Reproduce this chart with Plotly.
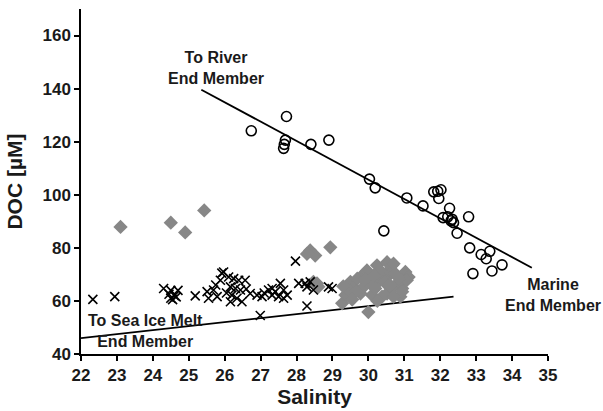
import plotly.graph_objects as go

# Open circles (marine samples)
circ_sal = [26.74, 27.72, 27.69, 27.66, 27.64, 28.40, 28.90, 30.03, 30.19, 30.43,
            31.07, 31.52, 31.82, 31.93, 32.02, 31.96, 32.26, 32.08, 32.21, 32.33,
            32.37, 32.30, 32.79, 32.47, 32.82, 33.14, 33.38, 33.28, 33.72, 32.91, 33.44]
circ_doc = [124.1, 129.5, 120.6, 119.0, 117.5, 119.0, 120.6, 105.9, 102.6, 86.4,
            98.8, 95.8, 101.1, 101.3, 101.9, 98.6, 94.9, 91.4, 91.7, 90.8,
            89.5, 90.2, 91.7, 85.5, 80.0, 77.5, 78.7, 75.9, 73.6, 70.3, 71.3]

# Crosses
x_sal = [22.33, 22.94, 24.30, 24.50, 24.70, 24.60, 24.50, 24.55, 24.65, 24.45,
         25.18, 25.55, 25.97, 25.88, 25.92, 25.51, 25.69, 25.79, 26.11, 26.25,
         26.39, 26.57, 26.16, 26.30, 26.44, 26.20, 26.34, 26.16, 26.48, 26.71,
         26.90, 27.04, 27.22, 27.32, 27.41, 27.55, 27.64, 27.74, 27.64, 27.50,
         27.32, 27.97, 28.06, 28.24, 28.38, 28.47, 28.29, 28.29, 26.99, 28.89,
         28.99, 25.75, 26.05, 26.60, 27.10]
x_doc = [60.6, 61.6, 64.7, 64.0, 64.0, 62.0, 61.0, 60.5, 61.5, 62.5,
         61.9, 61.0, 70.9, 67.8, 70.5, 63.5, 64.1, 61.6, 69.0, 68.4,
         67.8, 67.8, 65.3, 64.7, 64.1, 62.2, 61.0, 59.7, 59.7, 62.8,
         62.2, 61.6, 64.1, 64.7, 63.5, 66.6, 64.1, 62.2, 61.0, 61.6,
         62.2, 75.0, 66.6, 66.6, 67.2, 64.1, 65.3, 58.1, 54.5, 65.3,
         64.7, 66.0, 63.0, 64.5, 63.0]

# Grey diamonds
d_sal = [23.10, 24.50, 24.90, 25.43, 28.38, 28.52, 28.29, 28.94, 28.47, 28.61,
         28.57, 29.27, 29.36, 29.50, 29.78, 29.96, 30.24, 30.66, 31.03, 31.12,
         30.94, 30.89, 30.52, 30.10, 29.78, 29.59, 30.52, 30.33, 30.80, 30.05,
         29.87, 30.57, 30.75, 29.69, 30.33, 30.19, 30.66, 30.38, 30.70, 30.00,
         29.40, 30.52, 30.70, 31.07, 30.94, 29.45, 29.65, 29.90, 30.15, 30.45,
         30.85, 29.30, 29.55, 30.25, 30.60]
d_doc = [87.9, 89.5, 85.8, 94.1, 79.0, 77.1, 77.7, 80.2, 67.2, 65.3,
         66.6, 59.1, 62.2, 67.2, 69.0, 71.5, 73.4, 73.4, 70.9, 69.0,
         64.7, 61.6, 62.8, 62.2, 62.8, 65.3, 69.0, 67.8, 66.6, 66.6,
         65.3, 71.5, 70.3, 68.4, 71.5, 64.7, 64.7, 61.6, 61.6, 55.8,
         62.2, 74.6, 74.0, 67.8, 63.5, 64.0, 63.5, 68.0, 69.5, 67.0,
         68.5, 65.5, 60.5, 60.0, 66.0]

# Mixing lines (endpoints)
river_sal = [25.35, 34.55]
river_doc = [139.6, 72.5]
ice_sal = [22.0, 32.37]
ice_doc = [46.0, 61.6]

x_ticks = list(range(22, 36))
y_ticks = list(range(40, 161, 20))

FONT = "Liberation Sans, Arial, sans-serif"
TXT = "#1a1a1a"

fig = go.Figure()
fig.add_trace(go.Scatter(x=ice_sal, y=ice_doc, mode="lines",
                         line=dict(color="black", width=1.8), showlegend=False))
fig.add_trace(go.Scatter(x=river_sal, y=river_doc, mode="lines",
                         line=dict(color="black", width=1.8), showlegend=False))
fig.add_trace(go.Scatter(x=d_sal, y=d_doc, mode="markers",
                         marker=dict(symbol="diamond", size=11, color="#878787",
                                     line=dict(width=0)), showlegend=False))
fig.add_trace(go.Scatter(x=x_sal, y=x_doc, mode="markers",
                         marker=dict(symbol="x-thin-open", size=9, color="black",
                                     line=dict(width=1.6, color="black")), showlegend=False))
fig.add_trace(go.Scatter(x=circ_sal, y=circ_doc, mode="markers",
                         marker=dict(symbol="circle-open", size=10, color="black",
                                     line=dict(width=1.6, color="black")), showlegend=False))

ann_font = dict(family=FONT, size=16, color=TXT)
fig.add_annotation(x=(216 - 81) / 467, y=(358 - 69) / 349, xref="paper", yref="paper",
                   text="<b>To River<br>End Member</b>", showarrow=False,
                   align="center", xanchor="center", yanchor="middle", font=ann_font)
fig.add_annotation(x=(553 - 81) / 467, y=(358 - 298.5) / 349, xref="paper", yref="paper",
                   text="<b>Marine<br>End Member</b>", showarrow=False,
                   align="center", xanchor="center", yanchor="middle", font=ann_font)
fig.add_annotation(x=(145 - 81) / 467, y=(358 - 335) / 349, xref="paper", yref="paper",
                   text="<b>To Sea Ice Melt<br>End Member</b>", showarrow=False,
                   align="center", xanchor="center", yanchor="middle", font=ann_font)

fig.update_layout(
    width=603, height=411,
    margin=dict(l=81, r=55, t=9, b=53),
    paper_bgcolor="white", plot_bgcolor="white",
    font=dict(family=FONT, color=TXT),
    xaxis=dict(range=[22, 35], tickvals=x_ticks, ticktext=[f"<b>{v}</b>" for v in x_ticks],
               showgrid=False, zeroline=False, showline=True, linecolor="black", linewidth=1.5,
               ticks="outside", ticklen=5, tickwidth=1.5, tickcolor="black",
               tickfont=dict(size=17, family=FONT, color=TXT),
               title=dict(text="<b>Salinity</b>", font=dict(size=21, family=FONT, color=TXT), standoff=2)),
    yaxis=dict(range=[40, 170], tickvals=y_ticks, ticktext=[f"<b>{v}</b>" for v in y_ticks],
               showgrid=False, zeroline=False, showline=True, linecolor="black", linewidth=1.5,
               ticks="outside", ticklen=5, tickwidth=1.5, tickcolor="black",
               tickfont=dict(size=17, family=FONT, color=TXT),
               title=dict(text="<b>DOC [µM]</b>", font=dict(size=21, family=FONT, color=TXT), standoff=14)),
)

fig.write_html("out.html")
